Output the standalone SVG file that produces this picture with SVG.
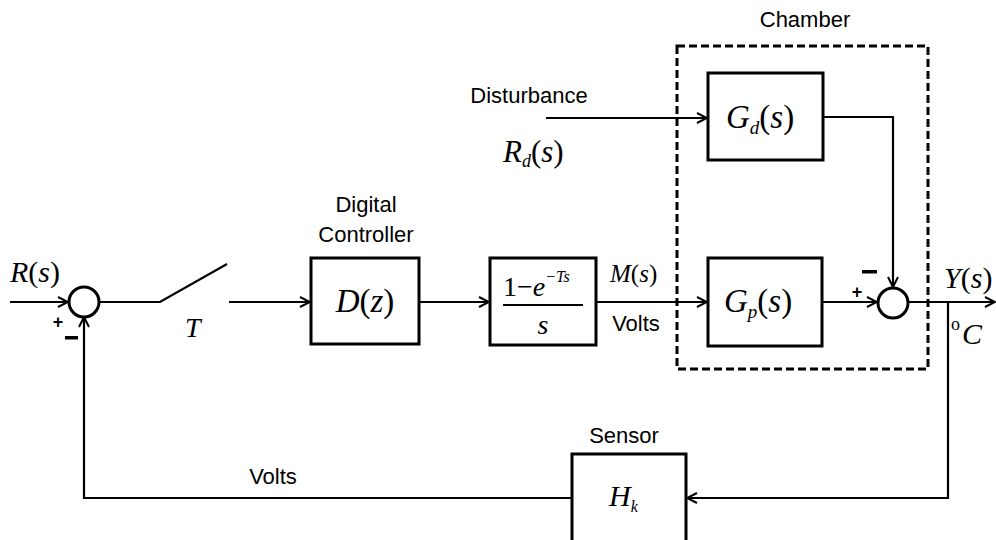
<svg xmlns="http://www.w3.org/2000/svg" width="996" height="540" viewBox="0 0 996 540">
<style>
.blk{fill:#fff;stroke:#000;stroke-width:3}
.sum{fill:#fff;stroke:#000;stroke-width:3}
.ln{fill:none;stroke:#000;stroke-width:2.2}
.lbl{font-family:"Liberation Sans","DejaVu Sans",sans-serif;font-size:22px;fill:#000}
.m{font-family:"Liberation Serif","Times New Roman",serif;font-style:italic;fill:#000}
.up{font-family:"Liberation Serif","Times New Roman",serif;font-style:normal;fill:#000}
.sg{font-family:"Liberation Sans","DejaVu Sans",sans-serif;font-weight:bold;font-size:18px;fill:#000}
.mn{fill:#000}
</style>
<defs>
<marker id="ar" viewBox="0 0 12 12" refX="11" refY="6" markerWidth="12" markerHeight="12" markerUnits="userSpaceOnUse" orient="auto">
<path d="M1,1 L11,6 L1,11" fill="none" stroke="#000" stroke-width="2"/>
</marker>
</defs>

<g id="chamber">
<rect x="677" y="46" width="251" height="323" fill="none" stroke="#000" stroke-width="3" stroke-dasharray="8 4"/>
<text class="lbl" x="805" y="27" text-anchor="middle">Chamber</text>
</g>

<g id="connectors">
<path class="ln" d="M10,302 H68" marker-end="url(#ar)"/>
<path class="ln" d="M99,302 H160 L227,264"/>
<path class="ln" d="M229,302 H310" marker-end="url(#ar)"/>
<path class="ln" d="M419,302 H489" marker-end="url(#ar)"/>
<path class="ln" d="M596,302 H707" marker-end="url(#ar)"/>
<path class="ln" d="M546,118 H707" marker-end="url(#ar)"/>
<path class="ln" d="M822,302 H877" marker-end="url(#ar)"/>
<path class="ln" d="M823,117 H893 V287" marker-end="url(#ar)"/>
<path class="ln" d="M908,302 H995" marker-end="url(#ar)"/>
<path class="ln" d="M948,302 V498 H687" marker-end="url(#ar)"/>
<path class="ln" d="M572,498 H84 V317" marker-end="url(#ar)"/>
</g>

<g id="sum1">
<circle class="sum" cx="84" cy="302" r="15"/>
<text class="sg" x="58" y="328" text-anchor="middle">+</text>
<rect class="mn" x="65" y="336" width="13" height="3.5"/>
</g>

<g id="sum2">
<circle class="sum" cx="893" cy="303" r="15"/>
<text class="sg" x="857" y="298" text-anchor="middle">+</text>
<rect class="mn" x="862" y="270" width="15" height="3.5"/>
</g>

<g id="labels">
<text class="m" x="10" y="282" font-size="30">R<tspan class="up">(</tspan>s<tspan class="up">)</tspan></text>
<text class="m" x="185" y="337" font-size="28">T</text>
<text class="lbl" x="366" y="212" text-anchor="middle">Digital</text>
<text class="lbl" x="366" y="242" text-anchor="middle">Controller</text>
<text class="lbl" x="529" y="103" text-anchor="middle">Disturbance</text>
<text class="m" x="503" y="162" font-size="31">R<tspan font-size="18" dy="5">d</tspan><tspan class="up" dy="-5">(</tspan>s<tspan class="up">)</tspan></text>
<text class="m" x="610" y="282" font-size="25">M<tspan class="up">(</tspan>s<tspan class="up">)</tspan></text>
<text class="lbl" x="636" y="331" text-anchor="middle">Volts</text>
<text class="m" x="944" y="288" font-size="30">Y<tspan class="up">(</tspan>s<tspan class="up">)</tspan></text>
<text class="up" x="951" y="330" font-size="18">o</text>
<text class="m" x="962" y="344" font-size="30">C</text>
<text class="lbl" x="273" y="484" text-anchor="middle">Volts</text>
<text class="lbl" x="624" y="443" text-anchor="middle">Sensor</text>
</g>

<g id="D">
<rect class="blk" x="311" y="258" width="108" height="86"/>
<text class="m" x="365" y="312" font-size="33" text-anchor="middle">D<tspan class="up">(</tspan>z<tspan class="up">)</tspan></text>
</g>

<g id="ZOH">
<rect class="blk" x="490" y="258" width="106" height="87"/>
<text class="up" x="503" y="296" font-size="28">1−<tspan class="m">e</tspan><tspan class="m" font-size="16" dy="-14">−Ts</tspan></text>
<line x1="503" y1="305" x2="583" y2="305" stroke="#000" stroke-width="2"/>
<text class="m" x="543" y="334" font-size="28" text-anchor="middle">s</text>
</g>

<g id="Gd">
<rect class="blk" x="708" y="73" width="115" height="87"/>
<text class="m" x="726" y="128" font-size="33">G<tspan font-size="19" dy="6">d</tspan><tspan class="up" dy="-6">(</tspan>s<tspan class="up">)</tspan></text>
</g>

<g id="Gp">
<rect class="blk" x="708" y="258" width="114" height="88"/>
<text class="m" x="724" y="312" font-size="33">G<tspan font-size="19" dy="6">p</tspan><tspan class="up" dy="-6">(</tspan>s<tspan class="up">)</tspan></text>
</g>

<g id="H">
<rect class="blk" x="572" y="454" width="114" height="90"/>
<text class="m" x="609" y="506" font-size="30">H<tspan font-size="16" dy="6">k</tspan></text>
</g>
</svg>
